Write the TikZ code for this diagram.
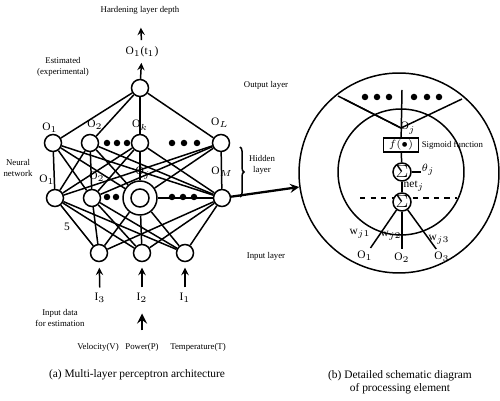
\documentclass[tikz,border=0pt]{standalone}
\usepackage{fontspec}
\setmainfont{Liberation Serif}
\usetikzlibrary{decorations.pathreplacing}

\begin{document}
\begin{tikzpicture}[x=0.02cm,y=-0.02cm,line width=0.85pt,
  neuron/.style={circle,draw,minimum size=0.34cm,inner sep=0pt,fill=white},
  bigneuron/.style={circle,draw,minimum size=0.68cm,inner sep=0pt,fill=white},
  sumnode/.style={circle,draw,minimum size=0.36cm,inner sep=0pt,fill=white},
  tag/.style={font=\fontsize{5}{6}\selectfont,align=center,inner sep=0pt},
  olbl/.style={font=\fontsize{6.5}{7}\selectfont,inner sep=0pt},
  caption/.style={font=\fontsize{6.5}{7.5}\selectfont,align=center,inner sep=0pt}]

      \useasboundingbox (0,0) rectangle (500,401);

      \node[neuron] (out) at (140,88) {};

      \node[neuron] (h1) at (53,143) {};
      \node[neuron] (h2) at (90,143) {};
      \node[neuron] (hk) at (140,143) {};
      \node[neuron] (hL) at (221,143) {};

      \node[neuron] (m1) at (55,198) {};
      \node[neuron] (m2) at (92,198) {};
      \node[bigneuron] (mj) at (140,198) {};
      \node[neuron] (mM) at (222,198) {};

      \node[neuron] (i3) at (99,253) {};
      \node[neuron] (i2) at (142,253) {};
      \node[neuron] (i1) at (185,253) {};

      \foreach \h in {h1,h2,hk,hL} \draw (out) -- (\h);
      \foreach \h in {h1,h2,hk,hL} \foreach \m in {m1,m2,mj,mM} \draw (\h) -- (\m);
      \foreach \m in {m1,m2,mj,mM} \foreach \i in {i3,i2,i1} \draw (\m) -- (\i);
      \draw (mj) -- (mM);

      \node[circle,draw,minimum size=0.36cm,inner sep=0pt] at (mj) {};

      \foreach \x in {107,117,127,172,184,197} \fill (\x,143) circle (0.065cm);
      \foreach \x in {107,116,172,183,194} \fill (\x,197) circle (0.065cm);

      \node[olbl] at (50,128) {O$_1$};
      \node[olbl] at (95,125) {O$_2$};
      \node[olbl] at (140,125) {O$_k$};
      \node[olbl] at (220,123) {O$_L$};
      \node[olbl] at (47,180) {O$_1$};
      \node[olbl] at (97,177) {O$_2$};
      \node[olbl] at (143,173) {O$_j$};
      \node[olbl] at (222,172) {O$_M$};
      \node[olbl] at (67,227) {5};

      \node[olbl] (o1t) at (142,52) {O$_1$(t$_1$)};
      \node[tag] (hld) at (140,10) {Hardening layer depth};
      \draw [->, >=stealth, shorten >=0.1cm] (out) -- (o1t);
      \draw [->, >=stealth, shorten <=0.12cm, shorten >=0.26cm] (o1t) -- (hld);

      \node[olbl] (l3) at (100,298) {I$_3$};
      \node[olbl] (l2) at (142,298) {I$_2$};
      \node[olbl] (l1) at (185,298) {I$_1$};
      \draw [->, >=stealth, shorten <=0.1cm, shorten >=0.11cm] (l3) -- (i3);
      \draw [->, >=stealth, shorten <=0.1cm, shorten >=0.11cm] (l2) -- (i2);
      \draw [->, >=stealth, shorten <=0.1cm, shorten >=0.11cm] (l1) -- (i1);

      \node[tag] (vel) at (98,347) {Velocity(V)};
      \node[tag] (pow) at (142,347) {Power(P)};
      \node[tag] (tmp) at (198,347) {Temperature(T)};
      \draw [->, >=stealth, line width=1.5pt, shorten <=0.24cm, shorten >=0.2cm] (pow) -- (l2);

      \node[tag] at (63,67) {Estimated\\(experimental)};
      \node[tag] at (18,168) {Neural\\network};
      \node[tag] at (60,318) {Input data\\for estimation};
      \node[tag] at (266,85) {Output layer};
      \node[tag] at (262,165) {Hidden\\layer};
      \node[tag] at (266,256) {Input layer};

      \draw [decorate, decoration={brace, amplitude=0.08cm}] (240,147) -- (240,197);

      \node[circle,draw,minimum size=4cm] (pe) at (399,173) {};
      \node[circle,draw,minimum size=2.52cm] (pein) at (401,172) {};
      \draw [->, >=stealth, line width=1.3pt] (mM) -- (pe.188);

      \coordinate (top) at (402,90);
      \coordinate (oj) at (401,128);
      \coordinate (ul1) at (338,96);
      \coordinate (ul2) at (344,99);
      \coordinate (ur) at (462,99);
      \foreach \x in {365,377,389,414,427,439} \fill (\x,97) circle (0.065cm);
      \draw (ul1) -- (oj);
      \draw (ul2) -- (oj);
      \draw (ur) -- (oj);

      \node[draw,fill=white,minimum width=0.7cm,minimum height=0.28cm,inner sep=0pt,olbl] (fbox) at (401,145) {$f(\bullet)$};
      \draw (top) -- (fbox);
      \node[olbl] at (408,128) {O$_j$};
      \node[tag,anchor=west] at (421,145) {Sigmoid function};

      \draw[dashed] (360,198) -- (457,198);
      \node[sumnode] (sum1) at (402,172) {$\Sigma$};
      \node[sumnode] (sum2) at (402,202) {$\Sigma$};
      \draw (fbox) -- (sum1);
      \draw (sum1) -- (sum2);
      \coordinate (th) at (421,172);
      \draw (sum1) -- (th);
      \node[olbl] at (428,170) {$\theta_j$};
      \node[olbl] at (414,186) {net$_j$};

      \node[olbl] (po1) at (365,256) {O$_1$};
      \node[olbl] (po2) at (402,258) {O$_2$};
      \node[olbl] (po3) at (442,257) {O$_3$};
      \draw [shorten >=0.06cm] (sum2) -- (po1);
      \draw [shorten >=0.06cm] (sum2) -- (po2);
      \draw [shorten >=0.06cm] (sum2) -- (po3);
      \node[olbl] at (360,234) {w$_{j1}$};
      \node[olbl] at (391,236) {w$_{j2}$};
      \node[olbl] at (439,240) {w$_{j3}$};

      \node[caption] at (137,375) {(a) Multi-layer perceptron architecture};
      \node[caption] at (400,382) {(b) Detailed schematic diagram\\of processing element};

    \end{tikzpicture}
\end{document}
